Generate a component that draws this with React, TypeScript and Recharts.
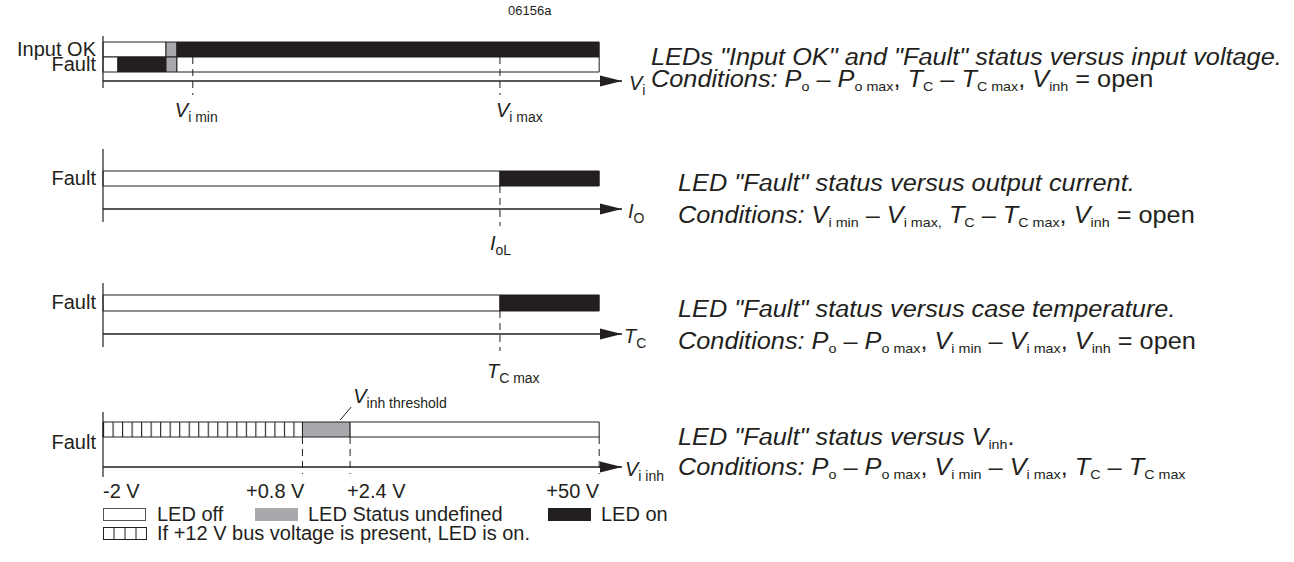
import React from 'react';
import { BarChart, Bar, XAxis, YAxis, ReferenceLine, Cell } from 'recharts';

const FONT = '"Liberation Sans", Arial, Helvetica, sans-serif';
const INK = '#231f20';
const GREY = '#a7a9ac';

type State = 'off' | 'undef' | 'on' | 'bus';

const STATE_FILL: Record<State, string> = {
  off: '#ffffff',
  undef: GREY,
  on: INK,
  bus: 'url(#bus-hatch)',
};

// every axis runs 0..100 along the bar, the arrow goes a bit past the end
const AXIS_END = 104.6;

// LEDs vs input voltage
const viRows = ['Input OK', 'Fault'];
const viInputOkLengths = [12.7, 2.2, 85.1];
const viInputOkStates: State[] = ['off', 'undef', 'on'];
const viFaultLengths = [3.0, 9.7, 2.2, 85.1];
const viFaultStates: State[] = ['off', 'on', 'undef', 'off'];
const viMarks = [18.1, 80.0];
const viMarkNames = [['V', 'i min'], ['V', 'i max']];

// Fault vs output current
const ioRows = ['Fault'];
const ioFaultLengths = [80, 20];
const ioFaultStates: State[] = ['off', 'on'];
const ioMarks = [80];
const ioMarkNames = [['I', 'oL']];

// Fault vs case temperature
const tcRows = ['Fault'];
const tcFaultLengths = [80, 20];
const tcFaultStates: State[] = ['off', 'on'];
const tcMarks = [80];
const tcMarkNames = [['T', 'C max']];

// Fault vs inhibit voltage
const vinhRows = ['Fault'];
const vinhFaultLengths = [40.2, 9.6, 50.2];
const vinhFaultStates: State[] = ['bus', 'undef', 'off'];
const vinhMarks = [0, 40.2, 49.8, 100];
const vinhTickLabels = ['-2 V', '+0.8 V', '+2.4 V', '+50 V'];
const vinhThreshold = 47.8;

const CHART_W = 700;

const Sub: React.FC<{ children: React.ReactNode }> = ({ children }) => (
  <span style={{ fontSize: 13, fontStyle: 'normal', position: 'relative', top: 4 }}>{children}</span>
);

const SvgName = ({ x, y, main, sub }: { x: number; y: number; main: string; sub: string }) => (
  <text x={x} y={y} fill={INK} fontFamily={FONT} fontSize={20}>
    <tspan fontStyle="italic">{main}</tspan>
    <tspan fontSize={14} dy={5}>{sub}</tspan>
  </text>
);

interface PanelProps {
  top: number;
  height: number;
  barTop: number;
  xAxisHeight: number;
  axisGap: number;
  rows: string[];
  lengths: number[][];
  states: State[][];
  marks: number[];
  dashed: number[];
  dashFrom: number;
  dashBelow: number;
  lineAbove: number;
  lineBelow: number;
  rowLabelDy?: number;
  renderTick: (x: number, y: number, i: number) => React.ReactNode;
  axisName: [string, string];
  nameDx?: number;
  note?: number;
}

const Panel: React.FC<PanelProps> = (p) => {
  const nSeg = Math.max(...p.lengths.map((l) => l.length));
  const data = p.rows.map((row, i) => {
    const d: Record<string, string | number> = { row };
    p.lengths[i].forEach((v, j) => {
      d['s' + j] = v;
    });
    return d;
  });

  return (
    <div style={{ position: 'absolute', left: 0, top: p.top }}>
      <BarChart
        width={CHART_W}
        height={p.height}
        data={data}
        layout="vertical"
        barCategoryGap={0}
        margin={{ top: p.barTop, right: 78, left: 0, bottom: 0 }}
      >
        <defs>
          <pattern id="bus-hatch" patternUnits="userSpaceOnUse" x={103} y={0} width={9.52} height={40}>
            <rect width={9.52} height={40} fill="#fff" />
            <line x1={0.5} y1={0} x2={0.5} y2={40} stroke={INK} strokeWidth={1.2} />
          </pattern>
        </defs>
        <XAxis
          type="number"
          domain={[0, AXIS_END]}
          ticks={p.marks}
          interval={0}
          height={p.xAxisHeight}
          tickLine={false}
          tickSize={0}
          tickMargin={0}
          axisLine={{ stroke: INK, strokeWidth: 1.3 }}
          tick={(t: any) => {
            const i = p.marks.indexOf(t.payload.value);
            return <g>{p.renderTick(t.x, t.y, i)}</g>;
          }}
          label={(l: any) => {
            const { x, y, width } = l.viewBox;
            const tip = x + width;
            return (
              <g>
                <polygon points={`${tip},${y} ${tip - 22},${y - 5.5} ${tip - 22},${y + 5.5}`} fill={INK} />
                <SvgName x={tip + (p.nameDx ?? 6)} y={y + 9} main={p.axisName[0]} sub={p.axisName[1]} />
              </g>
            );
          }}
        />
        <YAxis
          type="category"
          dataKey="row"
          width={103}
          interval={0}
          axisLine={false}
          tickLine={false}
          tickSize={0}
          tickMargin={7}
          padding={{ top: 0, bottom: p.axisGap }}
          tick={(t: any) => (
            <text
              x={t.x}
              y={t.y + (p.rowLabelDy || 0)}
              dy={6}
              textAnchor="end"
              fill={INK}
              fontFamily={FONT}
              fontSize={20}
            >
              {t.payload.value}
            </text>
          )}
        />
        {Array.from({ length: nSeg }).map((_, j) => (
          <Bar
            key={j}
            dataKey={'s' + j}
            stackId="led"
            stroke={INK}
            strokeWidth={1}
            isAnimationActive={false}
          >
            {p.rows.map((_, i) => (
              <Cell key={i} fill={STATE_FILL[p.states[i][j]] || 'none'} />
            ))}
          </Bar>
        ))}
        <ReferenceLine
          x={0}
          stroke={INK}
          shape={(s: any) => {
            const y0 = Math.min(s.y1, s.y2);
            const y1 = Math.max(s.y1, s.y2);
            return <line x1={s.x1} x2={s.x1} y1={y0 - p.lineAbove} y2={y1 + p.lineBelow} stroke={INK} strokeWidth={1.2} />;
          }}
        />
        {p.dashed.map((m) => (
          <ReferenceLine
            key={m}
            x={m}
            stroke={INK}
            shape={(s: any) => {
              const y0 = Math.min(s.y1, s.y2);
              const y1 = Math.max(s.y1, s.y2);
              return (
                <line
                  x1={s.x1}
                  x2={s.x1}
                  y1={y0 + p.dashFrom}
                  y2={y1 + p.dashBelow}
                  stroke={INK}
                  strokeWidth={1}
                  strokeDasharray="7 5"
                />
              );
            }}
          />
        ))}
        {p.note !== undefined && (
          <ReferenceLine
            x={p.note}
            stroke={INK}
            shape={(s: any) => {
              const y0 = Math.min(s.y1, s.y2);
              return (
                <g>
                  <line x1={s.x1} y1={y0 - 2} x2={s.x1 + 11} y2={y0 - 15} stroke={INK} strokeWidth={1} />
                  <SvgName x={s.x1 + 13} y={y0 - 19} main="V" sub="inh threshold" />
                </g>
              );
            }}
          />
        )}
      </BarChart>
    </div>
  );
};

const Desc: React.FC<{ top: number; left?: number; children: React.ReactNode }> = ({ top, left = 678, children }) => (
  <div
    style={{
      position: 'absolute',
      left,
      top,
      fontFamily: FONT,
      fontSize: 23,
      lineHeight: '21px',
      whiteSpace: 'nowrap',
      color: INK,
      transform: 'scaleX(1.1)',
      transformOrigin: '0 0',
    }}
  >
    {children}
  </div>
);

const Box: React.FC<{ left: number; top: number; fill: string }> = ({ left, top, fill }) => (
  <div
    style={{
      position: 'absolute',
      left,
      top,
      width: 43,
      height: 13,
      boxSizing: 'border-box',
      border: `1px solid ${fill === '#fff' ? '#555' : fill}`,
      background: fill,
    }}
  />
);

const LegendText: React.FC<{ left: number; top: number; children: React.ReactNode }> = ({ left, top, children }) => (
  <div style={{ position: 'absolute', left, top, fontFamily: FONT, fontSize: 20, lineHeight: '18px', color: INK, whiteSpace: 'nowrap' }}>
    {children}
  </div>
);

export default function App() {
  const nameTick = (names: string[][], dxs: number[], dy: number) => (x: number, y: number, i: number) => (
    <SvgName x={x + dxs[i]} y={y + dy} main={names[i][0]} sub={names[i][1]} />
  );

  const vinhAnchors = ['start', 'end', 'start', 'end'];
  const vinhDx = [0, 2, -3, 0];

  return (
    <div style={{ position: 'absolute', left: 0, top: 0, width: 1294, height: 562, background: '#fff', overflow: 'hidden' }}>
      <div style={{ position: 'absolute', left: 508, top: 3, fontFamily: FONT, fontSize: 13, color: INK }}>06156a</div>

      <Panel
        top={0}
        height={135}
        barTop={42}
        xAxisHeight={54}
        axisGap={9}
        rows={viRows}
        lengths={[viInputOkLengths, viFaultLengths]}
        states={[viInputOkStates, viFaultStates]}
        marks={viMarks}
        dashed={viMarks}
        dashFrom={15}
        dashBelow={14}
        lineAbove={6}
        lineBelow={7}
        renderTick={nameTick(viMarkNames, [-18, -4], 36)}
        axisName={['V', 'i']}
        nameDx={7}
      />
      <Panel
        top={135}
        height={125}
        barTop={36}
        xAxisHeight={51}
        axisGap={23}
        rows={ioRows}
        lengths={[ioFaultLengths]}
        states={[ioFaultStates]}
        marks={ioMarks}
        dashed={ioMarks}
        dashFrom={15}
        dashBelow={17}
        lineAbove={22}
        lineBelow={13}
        renderTick={nameTick(ioMarkNames, [-10], 41)}
        axisName={['I', 'O']}
      />
      <Panel
        top={260}
        height={135}
        barTop={35}
        xAxisHeight={61}
        axisGap={23}
        rows={tcRows}
        lengths={[tcFaultLengths]}
        states={[tcFaultStates]}
        marks={tcMarks}
        dashed={tcMarks}
        dashFrom={16}
        dashBelow={17}
        lineAbove={12}
        lineBelow={13}
        renderTick={nameTick(tcMarkNames, [-13], 44)}
        axisName={['T', 'C']}
        nameDx={2}
      />
      <Panel
        top={385}
        height={125}
        barTop={37}
        xAxisHeight={43}
        axisGap={30}
        rows={vinhRows}
        lengths={[vinhFaultLengths]}
        states={[vinhFaultStates]}
        marks={vinhMarks}
        dashed={vinhMarks.slice(1)}
        dashFrom={15}
        dashBelow={7}
        lineAbove={10}
        lineBelow={10}
        rowLabelDy={13}
        renderTick={(x, y, i) => (
          <text
            x={x + vinhDx[i]}
            y={y + 31}
            textAnchor={vinhAnchors[i] as any}
            fill={INK}
            fontFamily={FONT}
            fontSize={20}
          >
            {vinhTickLabels[i]}
          </text>
        )}
        axisName={['V', 'i inh']}
        nameDx={3}
        note={vinhThreshold}
      />

      <Desc top={47} left={651}>
        <i>LEDs "Input OK" and "Fault" status versus input voltage.</i>
      </Desc>
      <Desc top={69} left={651}>
        <i>Conditions: P</i><Sub>o</Sub> – <i>P</i><Sub>o max</Sub>, <i>T</i><Sub>C</Sub> – <i>T</i><Sub>C max</Sub>, <i>V</i><Sub>inh</Sub> = open
      </Desc>
      <Desc top={173}>
        <i>LED "Fault" status versus output current.</i>
      </Desc>
      <Desc top={205}>
        <i>Conditions: V</i><Sub>i min</Sub> – <i>V</i><Sub>i max,</Sub> <i>T</i><Sub>C</Sub> – <i>T</i><Sub>C max</Sub>, <i>V</i><Sub>inh</Sub> = open
      </Desc>
      <Desc top={299}>
        <i>LED "Fault" status versus case temperature.</i>
      </Desc>
      <Desc top={331}>
        <i>Conditions: P</i><Sub>o</Sub> – <i>P</i><Sub>o max</Sub>, <i>V</i><Sub>i min</Sub> – <i>V</i><Sub>i max</Sub>, <i>V</i><Sub>inh</Sub> = open
      </Desc>
      <Desc top={427}>
        <i>LED "Fault" status versus V</i><Sub>inh</Sub>.
      </Desc>
      <Desc top={457}>
        <i>Conditions: P</i><Sub>o</Sub> – <i>P</i><Sub>o max</Sub>, <i>V</i><Sub>i min</Sub> – <i>V</i><Sub>i max</Sub>, <i>T</i><Sub>C</Sub> – <i>T</i><Sub>C max</Sub>
      </Desc>

      <Box left={103} top={508} fill="#fff" />
      <LegendText left={157} top={505}>LED off</LegendText>
      <Box left={255} top={508} fill={GREY} />
      <LegendText left={308} top={505}>LED Status undefined</LegendText>
      <Box left={548} top={508} fill={INK} />
      <LegendText left={601} top={505}>LED on</LegendText>
      <svg style={{ position: 'absolute', left: 103, top: 527 }} width={44} height={13}>
        <rect x={0.5} y={0.5} width={43} height={12} fill="#fff" stroke={INK} />
        {[11, 22, 33].map((v) => (
          <line key={v} x1={v} x2={v} y1={0} y2={13} stroke={INK} />
        ))}
      </svg>
      <LegendText left={157} top={524}>If +12 V bus voltage is present, LED is on.</LegendText>
    </div>
  );
}
